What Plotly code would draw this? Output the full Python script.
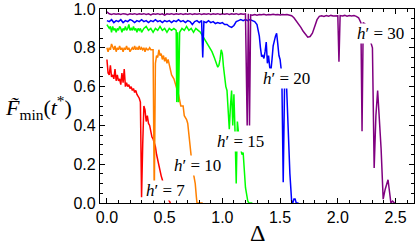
import plotly.graph_objects as go

# h'=7 (red)
red_x = [0.00,0.01,0.02,0.03,0.04,0.05,0.06,0.07,0.08,0.09,0.10,0.11,0.12,0.13,0.14,0.15,0.16,0.17,0.18,0.19,
         0.20,0.21,0.22,0.23,0.24,0.25,0.26,0.27,0.28,0.29,0.30,0.31,0.32,0.33,0.34,0.35,0.36,0.37,0.38,0.39,
         0.40,0.41,0.42,0.43,0.44,0.45,0.46,0.47,0.48,0.49,0.50,0.51,0.52,0.53,0.54,0.55]
red_y = [0.74,0.67,0.66,0.71,0.65,0.66,0.64,0.69,0.63,0.66,0.63,0.64,0.61,0.67,0.62,0.69,0.60,0.62,0.60,0.61,
         0.59,0.60,0.58,0.59,0.57,0.58,0.56,0.55,0.54,0.52,0.03,0.30,0.50,0.48,0.42,0.45,0.41,0.40,0.36,0.34,
         0.33,0.31,0.29,0.25,0.22,0.20,0.17,0.14,0.12,0.09,0.06,0.04,0.03,0.02,0.01,0.0]

# h'=10 (orange)
orange_x = [0.00,0.01,0.02,0.03,0.04,0.05,0.06,0.07,0.08,0.09,0.10,0.11,0.12,0.13,0.14,0.15,0.16,0.17,0.18,0.19,
            0.20,0.21,0.22,0.23,0.24,0.25,0.26,0.27,0.28,0.29,0.30,0.31,0.32,0.33,0.34,0.35,0.36,0.37,0.38,0.39,
            0.40,0.41,0.42,0.43,0.44,0.45,0.46,0.47,0.48,0.49,0.50,0.51,0.52,0.53,0.545,0.56,0.58,0.60,0.62,0.64,
            0.66,0.67,0.69,0.70,0.715,0.73,0.75,0.765,0.775,0.78,0.83]
orange_y = [0.80,0.78,0.80,0.79,0.82,0.80,0.79,0.81,0.78,0.80,0.79,0.81,0.79,0.80,0.78,0.80,0.79,0.81,0.79,0.80,
            0.78,0.79,0.80,0.79,0.81,0.79,0.80,0.79,0.81,0.79,0.80,0.79,0.80,0.78,0.80,0.79,0.79,0.80,0.79,0.79,
            0.79,0.02,0.72,0.76,0.75,0.79,0.76,0.77,0.74,0.76,0.73,0.75,0.72,0.74,0.70,0.66,0.64,0.60,0.56,0.50,
            0.50,0.45,0.43,0.41,0.32,0.24,0.15,0.10,0.03,0.0,0.0]

# h'=15 (green)
green_x = [0.00,0.01,0.02,0.03,0.04,0.05,0.06,0.07,0.08,0.09,0.10,0.11,0.12,0.13,0.14,0.15,0.16,0.17,0.18,0.19,
           0.20,0.21,0.22,0.23,0.24,0.25,0.26,0.27,0.28,0.29,0.30,0.32,0.34,0.36,0.38,0.40,0.42,0.44,0.46,0.48,
           0.50,0.52,0.54,0.56,0.58,0.60,0.605,0.612,0.62,0.63,0.65,0.67,0.69,0.71,0.73,0.75,0.77,0.79,0.81,0.83,
           0.85,0.87,0.89,0.91,0.93,0.95,0.96,0.97,0.98,0.99,1.00,1.01,1.02,1.03,1.04,1.05,1.06,1.07,1.08,1.09,
           1.10,1.11,1.12,1.13,1.15,1.17,1.18,1.20,1.22,1.23,1.26]
green_y = [0.92,0.91,0.90,0.91,0.88,0.91,0.89,0.90,0.88,0.90,0.89,0.91,0.90,0.88,0.90,0.89,0.91,0.89,0.90,0.92,
           0.89,0.90,0.89,0.91,0.89,0.90,0.88,0.90,0.89,0.90,0.88,0.90,0.91,0.89,0.90,0.88,0.90,0.89,0.91,0.89,
           0.90,0.88,0.90,0.89,0.90,0.89,0.52,0.88,0.52,0.88,0.90,0.89,0.91,0.89,0.90,0.88,0.90,0.89,0.88,0.86,
           0.84,0.82,0.80,0.78,0.75,0.71,0.70,0.71,0.74,0.79,0.77,0.70,0.64,0.60,0.58,0.47,0.38,0.50,0.58,0.40,
           0.56,0.36,0.10,0.42,0.30,0.25,0.26,0.08,0.01,0.0,0.0]

# h'=20 (blue)
blue_x = [0.00,0.02,0.04,0.06,0.08,0.10,0.12,0.14,0.16,0.18,0.20,0.22,0.24,0.26,0.28,0.30,0.32,0.34,0.36,0.38,
          0.40,0.42,0.44,0.46,0.48,0.50,0.52,0.54,0.56,0.58,0.60,0.62,0.64,0.66,0.68,0.70,0.72,0.74,0.76,0.78,
          0.80,0.82,0.83,0.84,0.86,0.88,0.90,0.92,0.94,0.96,0.98,1.00,1.02,1.04,1.06,1.08,1.10,1.12,1.14,1.16,
          1.18,1.20,1.22,1.24,1.26,1.28,1.30,1.31,1.32,1.33,1.34,1.35,1.36,1.37,1.38,1.39,1.40,1.41,1.42,1.43,
          1.44,1.46,1.47,1.48,1.49,1.50,1.515,1.527,1.54,1.555,1.57,1.585,1.60,1.61,1.62,1.63,1.64,1.66]
blue_y = [0.94,0.935,0.945,0.93,0.94,0.935,0.945,0.93,0.94,0.935,0.945,0.94,0.93,0.94,0.935,0.945,0.935,0.94,0.93,0.94,
          0.935,0.945,0.935,0.94,0.93,0.94,0.935,0.94,0.93,0.94,0.935,0.945,0.935,0.94,0.93,0.94,0.935,0.92,0.935,0.94,
          0.93,0.94,0.75,0.935,0.93,0.94,0.93,0.935,0.925,0.93,0.925,0.93,0.92,0.92,0.91,0.905,0.915,0.935,0.94,0.945,
          0.94,0.945,0.94,0.945,0.94,0.935,0.92,0.89,0.86,0.80,0.755,0.76,0.745,0.78,0.83,0.72,0.76,0.70,0.68,0.74,
          0.81,0.86,0.875,0.82,0.76,0.74,0.66,0.107,0.66,0.62,0.35,0.15,0.01,0.0,0.02,0.02,0.0,0.0]

# h'=30 (purple)
purple_x = [0.00,0.02,0.04,0.06,0.08,0.10,0.12,0.14,0.16,0.18,0.20,0.22,0.24,0.26,0.28,0.30,0.32,0.34,0.36,0.38,
            0.40,0.42,0.44,0.46,0.48,0.50,0.52,0.54,0.56,0.58,0.60,0.62,0.64,0.66,0.68,0.70,0.72,0.74,0.76,0.78,
            0.80,0.82,0.84,0.86,0.88,0.90,0.92,0.94,0.96,0.98,1.00,1.02,1.04,1.06,1.08,1.10,1.12,1.14,1.16,1.18,
            1.20,1.215,1.225,1.235,1.245,1.26,1.28,1.30,1.32,1.34,1.36,1.38,1.40,1.42,1.44,1.46,1.48,1.50,1.52,1.54,
            1.56,1.58,1.60,1.62,1.64,1.66,1.68,1.70,1.72,1.74,1.76,1.78,1.80,1.82,1.84,1.86,1.88,1.90,1.92,1.94,
            1.96,1.98,2.00,2.01,2.02,2.04,2.06,2.08,2.10,2.12,2.14,2.16,2.18,2.20,2.21,2.22,2.24,2.26,2.28,2.30,
            2.315,2.33,2.345,2.36,2.375,2.393,2.41,2.435,2.45,2.46,2.475,2.49,2.50]
purple_y = [0.985,0.975,0.972,0.976,0.973,0.975,0.972,0.976,0.974,0.971,0.975,0.973,0.976,0.972,0.975,0.973,0.976,0.972,0.975,0.970,
            0.975,0.973,0.976,0.972,0.975,0.968,0.975,0.973,0.976,0.972,0.975,0.973,0.976,0.972,0.975,0.973,0.976,0.972,0.975,0.973,
            0.976,0.972,0.975,0.973,0.976,0.972,0.975,0.973,0.976,0.972,0.975,0.973,0.976,0.972,0.975,0.973,0.976,0.972,0.975,0.973,
            0.975,0.40,0.975,0.40,0.970,0.968,0.972,0.968,0.972,0.970,0.973,0.969,0.972,0.970,0.973,0.970,0.972,0.969,0.972,0.970,
            0.972,0.968,0.965,0.955,0.940,0.925,0.905,0.885,0.868,0.855,0.858,0.875,0.910,0.945,0.962,0.965,0.962,0.966,0.963,0.967,
            0.964,0.966,0.965,0.728,0.966,0.964,0.967,0.963,0.966,0.964,0.966,0.962,0.955,0.930,0.37,0.930,0.920,0.880,0.840,0.800,
            0.18,0.45,0.58,0.45,0.28,0.02,0.07,0.12,0.04,0.0,0.01,0.0,0.0]

series = [(red_x, red_y, "#FF0000"), (orange_x, orange_y, "#FF8000"), (green_x, green_y, "#00FF00"),
          (blue_x, blue_y, "#0000FF"), (purple_x, purple_y, "#800080")]

labels_text = ["<i>h</i>′ = 7", "<i>h</i>′ = 10", "<i>h</i>′ = 15", "<i>h</i>′ = 20", "<i>h</i>′ = 30"]
labels_x = [0.511, 0.784, 1.158, 1.556, 2.371]
labels_y = [0.067, 0.191, 0.319, 0.642, 0.874]

x_ticks = [0.0, 0.5, 1.0, 1.5, 2.0, 2.5]
y_ticks = [0.0, 0.2, 0.4, 0.6, 0.8, 1.0]

fig = go.Figure()
for xs, ys, c in series:
    fig.add_trace(go.Scatter(x=xs, y=ys, mode="lines", line=dict(color=c, width=1.5), showlegend=False))

for t, lx, ly in zip(labels_text, labels_x, labels_y):
    fig.add_annotation(x=lx, y=ly, xref="x", yref="y", text=t, showarrow=False,
                       font=dict(family="Liberation Serif", size=17, color="black"),
                       bgcolor="white", borderpad=0)

fig.add_annotation(x=-0.197, y=0.49, xref="paper", yref="paper", xanchor="center", yanchor="middle",
                   text="<i>F\u0303</i><sub>min</sub>(<i>t</i><sup>*</sup>)", showarrow=False,
                   font=dict(family="Liberation Serif", size=22, color="black"))
fig.add_annotation(x=0.5, y=-0.155, xref="paper", yref="paper", xanchor="center", yanchor="middle",
                   text="Δ", showarrow=False,
                   font=dict(family="Liberation Serif", size=24, color="black"))

axis_common = dict(showline=True, linecolor="black", linewidth=1.3, mirror="allticks",
                   ticks="inside", ticklen=5, tickwidth=1, tickcolor="black", showgrid=False, zeroline=False,
                   tickfont=dict(family="Liberation Sans", size=16, color="black"))
fig.update_xaxes(range=[-0.06, 2.66], tickvals=x_ticks, ticktext=[f"{v:.1f}" for v in x_ticks],
                 minor=dict(dtick=0.1, tick0=0, ticks="inside", ticklen=2.5, tickcolor="black", showgrid=False),
                 **axis_common)
fig.update_yaxes(range=[0, 1], tickvals=y_ticks, ticktext=[f"{v:.1f}" for v in y_ticks],
                 minor=dict(dtick=0.05, tick0=0, ticks="inside", ticklen=2.5, tickcolor="black", showgrid=False),
                 **axis_common)
fig.update_layout(width=415, height=247, margin=dict(l=100, r=1, t=9, b=44),
                  plot_bgcolor="white", paper_bgcolor="white")
fig.write_html("out.html", config={"displayModeBar": False},
               post_script="document.body.style.margin='0';document.body.style.overflow='hidden';")
